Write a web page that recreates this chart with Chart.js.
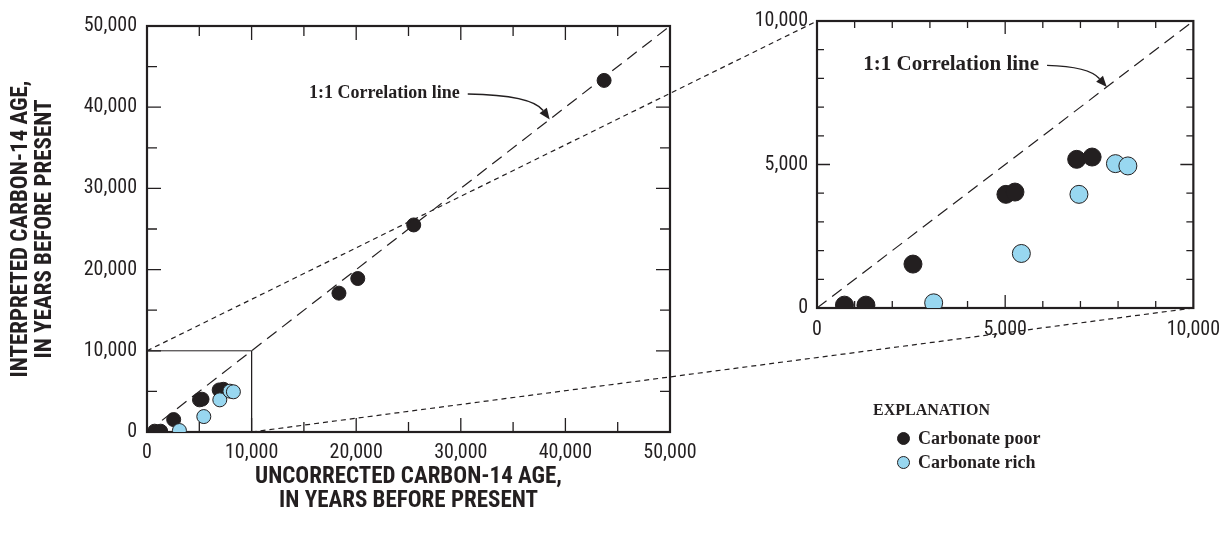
<!DOCTYPE html>
<html>
<head>
<meta charset="utf-8">
<script src="https://cdn.jsdelivr.net/npm/chart.js@4.4.1/dist/chart.umd.min.js"></script>
<style>
  body { margin: 0; background: #fff; }
  #page { position: relative; width: 1230px; height: 540px; overflow: hidden; }
  #mainChart { position: absolute; left: 0; top: 0; }
  #insetChart { position: absolute; left: 740px; top: 0; }
  #links { position: absolute; left: 0; top: 0; pointer-events: none; }
  #legend {
    position: absolute; left: 873px; top: 398px;
    font: bold 18px "Liberation Serif", "Times New Roman", serif; color: #231f20;
    line-height: 24px;
  }
  #legend .head { font-size: 16px; margin-bottom: 4px; }
  #legend .row { position: relative; padding-left: 45px; }
  #legend .dot {
    position: absolute; left: 24px; top: 6px; width: 13px; height: 13px;
    border-radius: 50%; box-sizing: border-box; border: 1px solid #231f20;
  }
</style>
</head>
<body>
<div id="page">
  <canvas id="mainChart" width="720" height="540"></canvas>
  <canvas id="insetChart" width="490" height="360"></canvas>
  <canvas id="links" width="1230" height="540"></canvas>
  <div id="legend"></div>
</div>
<script>
// Data (years before present)
const poorX = [730, 1300, 2550, 5020, 5260, 6900, 7310, 18350, 20150, 25500, 43700];
const poorY = [100, 100, 1530, 3960, 4040, 5180, 5260, 17100, 18900, 25500, 43300];
const richX = [3100, 5430, 6960, 7930, 8260];
const richY = [180, 1900, 3960, 5030, 4950];

const seriesLabels = ['Carbonate poor', 'Carbonate rich'];
const mainTicks = [0, 10000, 20000, 30000, 40000, 50000];
const insetTicks = [0, 5000, 10000];
const xTitle = ['UNCORRECTED CARBON-14 AGE,', 'IN YEARS BEFORE PRESENT'];
const yTitle = ['INTERPRETED CARBON-14 AGE,', 'IN YEARS BEFORE PRESENT'];
const noteText = '1:1 Correlation line';
const legendTitle = 'EXPLANATION';
const zoomLimit = 10000;   // extent of the enlarged box

const INK = '#231f20';
const BLUE = '#98d7f0';
const NARROW = '"Liberation Sans Narrow", "Roboto Condensed", "Noto Sans Condensed", "DejaVu Sans Condensed", sans-serif';
const SERIF = '"Liberation Serif", "Times New Roman", serif';

const toPoints = (xs, ys) => xs.map((x, i) => ({ x, y: ys[i] }));

// Frame, inward tick marks and the "1:1 Correlation line" note
const framePlugin = {
  id: 'frame',
  beforeDatasetsDraw(chart, args, o) {
    const { ctx, chartArea: a, scales: { x, y } } = chart;
    ctx.save();
    ctx.strokeStyle = INK;
    ctx.lineWidth = 1.3;
    ctx.beginPath();
    for (let v = o.step; v < o.max; v += o.step) {
      const len = v % o.major === 0 ? o.majorLen : o.minorLen;
      const px = x.getPixelForValue(v);
      const py = y.getPixelForValue(v);
      ctx.moveTo(px, a.bottom); ctx.lineTo(px, a.bottom - len);
      ctx.moveTo(px, a.top); ctx.lineTo(px, a.top + len);
      ctx.moveTo(a.left, py); ctx.lineTo(a.left + len, py);
      ctx.moveTo(a.right, py); ctx.lineTo(a.right - len, py);
    }
    ctx.stroke();
    ctx.lineWidth = 2.2;
    ctx.strokeRect(a.left, a.top, a.right - a.left, a.bottom - a.top);
    ctx.restore();
  },
  afterDatasetsDraw(chart, args, o) {
    const { ctx, scales: { x, y } } = chart;
    const tx = x.getPixelForValue(o.noteX);
    const ty = y.getPixelForValue(o.noteY);
    ctx.save();
    ctx.fillStyle = INK;
    ctx.strokeStyle = INK;
    ctx.font = 'bold ' + o.noteSize + 'px ' + SERIF;
    ctx.textAlign = 'right';
    ctx.textBaseline = 'middle';
    ctx.fillText(noteText, tx, ty);

    // curved arrow to the 1:1 line
    const sx = tx + 8, sy = ty + 1;
    const ex = x.getPixelForValue(o.tipValue), ey = y.getPixelForValue(o.tipValue);
    const cx = ex - 18, cy = sy + 1;
    const ang = Math.atan2(ey - cy, ex - cx);
    const L = 11, W = 4.5;
    const bx = ex - L * Math.cos(ang), by = ey - L * Math.sin(ang);
    ctx.lineWidth = 1.4;
    ctx.beginPath();
    ctx.moveTo(sx, sy);
    ctx.quadraticCurveTo(cx, cy, bx, by);
    ctx.stroke();
    ctx.beginPath();
    ctx.moveTo(ex, ey);
    ctx.lineTo(bx + W * Math.sin(ang), by - W * Math.cos(ang));
    ctx.lineTo(bx - W * Math.sin(ang), by + W * Math.cos(ang));
    ctx.closePath();
    ctx.fill();
    ctx.restore();
  }
};

function makeChart(canvasId, c) {
  const axis = (ticks, fitKey, fitSize, padding, title) => ({
    type: 'linear',
    min: 0,
    max: c.max,
    grid: { display: false, drawTicks: false },
    border: { display: false },
    afterBuildTicks: s => { s.ticks = ticks.map(v => ({ value: v })); },
    afterFit: s => { s[fitKey] = fitSize; },
    ticks: {
      padding,
      color: INK,
      autoSkip: false,
      maxRotation: 0,
      font: { family: NARROW, size: 20 },
      callback: v => v.toLocaleString('en-US')
    },
    title: title
      ? { display: true, text: title.text, color: INK, padding: title.padding,
          font: { family: NARROW, size: 23, weight: 'bold', lineHeight: 1.05 } }
      : { display: false }
  });

  return new Chart(document.getElementById(canvasId), {
    type: 'scatter',
    data: {
      datasets: [
        { label: seriesLabels[1], data: toPoints(richX, richY), backgroundColor: BLUE,
          borderColor: INK, borderWidth: 1, pointRadius: c.radius },
        { label: seriesLabels[0], data: toPoints(poorX, poorY), backgroundColor: INK,
          borderColor: INK, borderWidth: 1, pointRadius: c.radius },
        { label: '1:1', data: [{ x: 0, y: 0 }, { x: c.max, y: c.max }], showLine: true,
          borderColor: INK, borderWidth: 1.2, borderDash: [12, 7], pointRadius: 0 },
        ...(c.box ? [{ label: 'box',
          data: [{ x: 0, y: zoomLimit }, { x: zoomLimit, y: zoomLimit }, { x: zoomLimit, y: 0 }],
          showLine: true, borderColor: INK, borderWidth: 1, pointRadius: 0 }] : [])
      ]
    },
    options: {
      responsive: false,
      animation: false,
      layout: { padding: c.padding },
      plugins: {
        legend: { display: false },
        tooltip: { enabled: false },
        frame: c.frame
      },
      scales: {
        x: axis(c.ticks, 'height', c.xHeight, c.xPad, c.xTitle),
        y: axis(c.ticks, 'width', c.yWidth, c.yPad, c.yTitle)
      }
    },
    plugins: [framePlugin]
  });
}

const mainChart = makeChart('mainChart', {
  max: 50000, ticks: mainTicks, radius: 7, box: true,
  padding: { top: 26, right: 50, left: 0, bottom: 0 },
  xHeight: 108, yWidth: 147, xPad: 9, yPad: 10,
  xTitle: { text: xTitle, padding: { top: 0, bottom: 27 } },
  yTitle: { text: yTitle, padding: { top: 9, bottom: 0 } },
  frame: { step: 5000, major: 10000, max: 50000, minorLen: 10, majorLen: 14,
           noteX: 29900, noteY: 41750, tipValue: 38500, noteSize: 18 }
});

const insetChart = makeChart('insetChart', {
  max: zoomLimit, ticks: insetTicks, radius: 9, box: false,
  padding: { top: 16, right: 35, left: 0, bottom: 0 },
  xHeight: 52, yWidth: 77, xPad: 10, yPad: 9,
  frame: { step: 1000, major: 5000, max: zoomLimit, minorLen: 7, majorLen: 13,
           noteX: 5900, noteY: 8490, tipValue: 7700, noteSize: 21 }
});

// Dashed connectors from the box in the main plot to the enlarged plot
(function drawLinks() {
  const ctx = document.getElementById('links').getContext('2d');
  const mx = mainChart.scales.x, my = mainChart.scales.y;
  const ia = insetChart.chartArea;
  const off = document.getElementById('insetChart').offsetLeft;
  ctx.strokeStyle = INK;
  ctx.lineWidth = 1.2;
  ctx.setLineDash([5, 4]);
  ctx.beginPath();
  ctx.moveTo(mx.getPixelForValue(0), my.getPixelForValue(zoomLimit));
  ctx.lineTo(off + ia.left, ia.top);
  ctx.moveTo(mx.getPixelForValue(zoomLimit), my.getPixelForValue(0));
  ctx.lineTo(off + ia.right, ia.bottom);
  ctx.stroke();
})();

// Legend
const legend = document.getElementById('legend');
legend.innerHTML = `<div class="head">${legendTitle}</div>` +
  [[seriesLabels[0], INK], [seriesLabels[1], BLUE]].map(([name, color]) =>
    `<div class="row"><span class="dot" style="background:${color}"></span>${name}</div>`
  ).join('');
</script>
</body>
</html>
